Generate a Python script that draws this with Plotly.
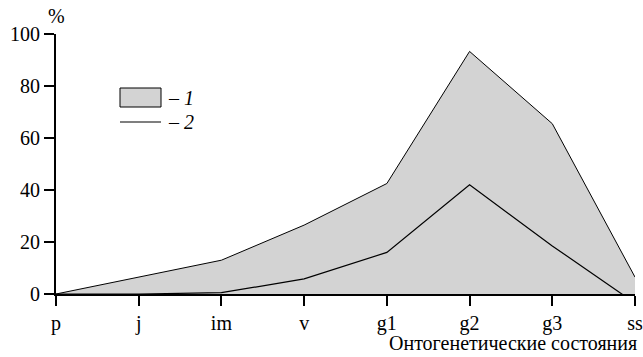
import plotly.graph_objects as go

# Ontogenetic states along the x axis
states = ["p", "j", "im", "v", "g1", "g2", "g3", "ss"]
# Series 1 (shaded area) and series 2 (line), %
series1 = [0, 6.5, 13, 26.5, 42.5, 93.3, 65.5, 6.5]
series2 = [0, 0, 0.5, 5.8, 16, 42, 18.5, -3.5]
y_ticks = [0, 20, 40, 60, 80, 100]

FONT = "Liberation Serif"
GRAY = "#d3d3d3"
FS = 20

fig = go.Figure()
fig.add_trace(go.Scatter(
    x=states, y=series1, mode="lines", fill="tozeroy",
    fillcolor=GRAY, line=dict(color="black", width=1),
))
fig.add_trace(go.Scatter(
    x=states, y=series2, mode="lines",
    line=dict(color="black", width=1.2),
))

fig.update_layout(
    template="none",
    width=643, height=357,
    margin=dict(l=56, r=8, t=34, b=63, autoexpand=False),
    plot_bgcolor="white", paper_bgcolor="white",
    showlegend=False,
    font=dict(family=FONT, size=FS, color="black"),
    xaxis=dict(
        type="category", range=[0, 7], showgrid=False, zeroline=False,
        automargin=False,
        showline=True, linecolor="black", linewidth=2,
        ticks="outside", ticklen=10, tickwidth=2, tickcolor="black",
        tickfont=dict(family=FONT, size=FS, color="black"),
    ),
    yaxis=dict(
        range=[0, 100], tickvals=y_ticks, showgrid=False, zeroline=False,
        automargin=False,
        showline=True, linecolor="black", linewidth=2,
        ticks="outside", ticklen=10, tickwidth=2, tickcolor="black",
        tickfont=dict(family=FONT, size=FS, color="black"),
    ),
)

# Axis captions
fig.add_annotation(xref="paper", yref="paper", x=0.0, y=1.0, yshift=5,
                   text="%", showarrow=False, xanchor="center", yanchor="bottom",
                   font=dict(family=FONT, size=FS, color="black"))
fig.add_annotation(xref="paper", yref="paper", x=1.0, y=0, yshift=-36, xshift=4,
                   text="Онтогенетические состояния", showarrow=False,
                   xanchor="right", yanchor="top", font=dict(family=FONT, size=FS, color="black"))

# Hand-drawn key
fig.add_shape(type="rect", xref="paper", yref="paper",
              x0=(120 - 56) / 579, x1=(161 - 56) / 579,
              y0=(294 - 107) / 260, y1=(294 - 88) / 260,
              fillcolor=GRAY, line=dict(color="black", width=1))
fig.add_shape(type="line", xref="paper", yref="paper",
              x0=(120 - 56) / 579, x1=(161 - 56) / 579,
              y0=(294 - 122) / 260, y1=(294 - 122) / 260,
              line=dict(color="black", width=1.2))
fig.add_annotation(xref="paper", yref="paper", x=(166 - 56) / 579, y=(294 - 97.5) / 260,
                   text="– <i>1</i>", showarrow=False, xanchor="left", yanchor="middle",
                   font=dict(family=FONT, size=FS, color="black"))
fig.add_annotation(xref="paper", yref="paper", x=(166 - 56) / 579, y=(294 - 122) / 260,
                   text="– <i>2</i>", showarrow=False, xanchor="left", yanchor="middle",
                   font=dict(family=FONT, size=FS, color="black"))

fig.write_html("out.html")
